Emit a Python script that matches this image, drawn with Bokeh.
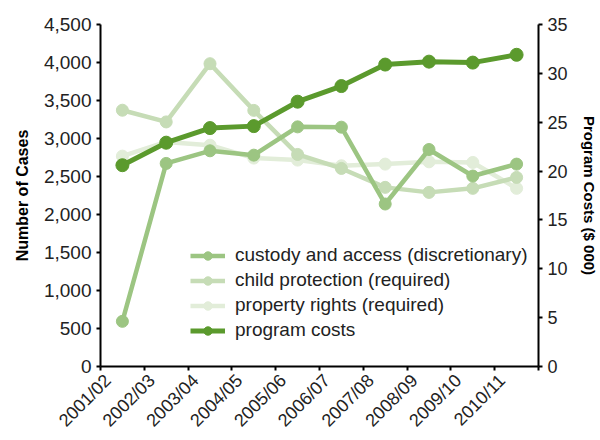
import math
from bokeh.plotting import figure
from bokeh.models import (Range1d, LinearAxis, FixedTicker, NumeralTickFormatter,
                          Legend, LegendItem)
from bokeh.embed import file_html
from bokeh.resources import INLINE

years = ["2001/02", "2002/03", "2003/04", "2004/05", "2005/06",
         "2006/07", "2007/08", "2008/09", "2009/10", "2010/11"]
custody = [594, 2672, 2838, 2781, 3153, 3149, 2138, 2855, 2506, 2663]
child_protection = [3372, 3218, 3984, 3370, 2790, 2606, 2357, 2291, 2344, 2488]
property_rights = [2768, 2955, 2912, 2742, 2716, 2641, 2663, 2693, 2685, 2344]
program_costs = [20.6, 22.9, 24.4, 24.6, 27.1, 28.7, 30.9, 31.2, 31.1, 31.9]
left_ticks = [0, 500, 1000, 1500, 2000, 2500, 3000, 3500, 4000, 4500]
right_ticks = [0, 5, 10, 15, 20, 25, 30, 35]

FONT = "Liberation Sans"
xs = list(range(len(years)))
SHIFT = -0.33
label_ticks = [i + SHIFT for i in xs]

p = figure(width=600, height=440, output_backend="svg", toolbar_location=None,
           x_range=Range1d(-0.5, 9.5), y_range=Range1d(0, 4500),
           min_border_left=100, min_border_right=54, min_border_top=24,
           min_border_bottom=73)
p.extra_y_ranges = {"cost": Range1d(0, 35)}
p.xgrid.visible = False
p.ygrid.visible = False
p.outline_line_color = None
p.background_fill_color = "white"
p.border_fill_color = "white"

# axes
p.xaxis.ticker = FixedTicker(ticks=label_ticks,
                             minor_ticks=[i - 0.5 for i in range(len(years) + 1)])
p.xaxis.major_label_overrides = {t: y for t, y in zip(label_ticks, years)}
p.xaxis.major_label_orientation = math.pi / 4
p.xaxis.minor_tick_line_color = "black"
p.xaxis.minor_tick_line_width = 2
p.xaxis.minor_tick_out = 4
p.xaxis.minor_tick_in = 0

p.yaxis.ticker = FixedTicker(ticks=left_ticks)
p.yaxis.formatter = NumeralTickFormatter(format="0,0")
p.yaxis.axis_label = "Number of Cases"
p.yaxis.minor_tick_line_color = None

raxis = LinearAxis(y_range_name="cost", ticker=FixedTicker(ticks=right_ticks),
                   axis_label="Program Costs ($ 000)")
raxis.minor_tick_line_color = None
p.add_layout(raxis, "right")

for ax in [p.xaxis[0], p.yaxis[0], raxis]:
    ax.axis_line_color = "black"
    ax.axis_line_width = 2
    ax.major_tick_line_width = 2
    ax.major_tick_out = 4
    ax.major_tick_in = 0
    ax.major_label_text_font = FONT
    ax.major_label_text_font_size = "19px"
    ax.major_label_text_color = "#222222"
    ax.axis_label_text_font = FONT
    ax.axis_label_text_font_size = "16px"
    ax.axis_label_text_font_style = "bold"
    ax.axis_label_text_color = "black"
p.xaxis.major_tick_line_color = None
p.xaxis.major_label_text_font_size = "18px"
p.xaxis.major_label_standoff = 7
raxis.major_label_text_font_size = "18px"
raxis.axis_label_text_font_size = "15px"
raxis.major_label_standoff = 1
raxis.axis_label_standoff = 0
p.yaxis.major_label_standoff = 5
p.yaxis.axis_label_standoff = 10

c_custody = "#9cc582"
c_child = "#c6dcb6"
c_prop = "#e2edd9"
c_cost = "#5b9a2d"

series = [("property rights (required)", property_rights, c_prop, None),
          ("child protection (required)", child_protection, c_child, None),
          ("custody and access (discretionary)", custody, c_custody, None),
          ("program costs", program_costs, c_cost, "cost")]
rend = {}
for name, vals, col, rng in series:
    kw = {"y_range_name": rng} if rng else {}
    lw = 5 if rng else 4.5
    l = p.line(xs, vals, line_color=col, line_width=lw, **kw)
    c = p.scatter(xs, vals, size=13 if rng else 12, fill_color=col, line_color=col, **kw)
    rend[name] = [l, c]

order = ["custody and access (discretionary)", "child protection (required)",
         "property rights (required)", "program costs"]
legend = Legend(items=[LegendItem(label=n, renderers=rend[n]) for n in order],
                location=(90, 25), label_text_font=FONT, label_text_font_size="19px",
                label_text_color="#222222", glyph_width=35, glyph_height=21,
                label_height=21, label_standoff=10, spacing=3, padding=4,
                border_line_color=None, background_fill_alpha=0)
p.add_layout(legend, "center")

open("out.html", "w").write(file_html(p, INLINE))
